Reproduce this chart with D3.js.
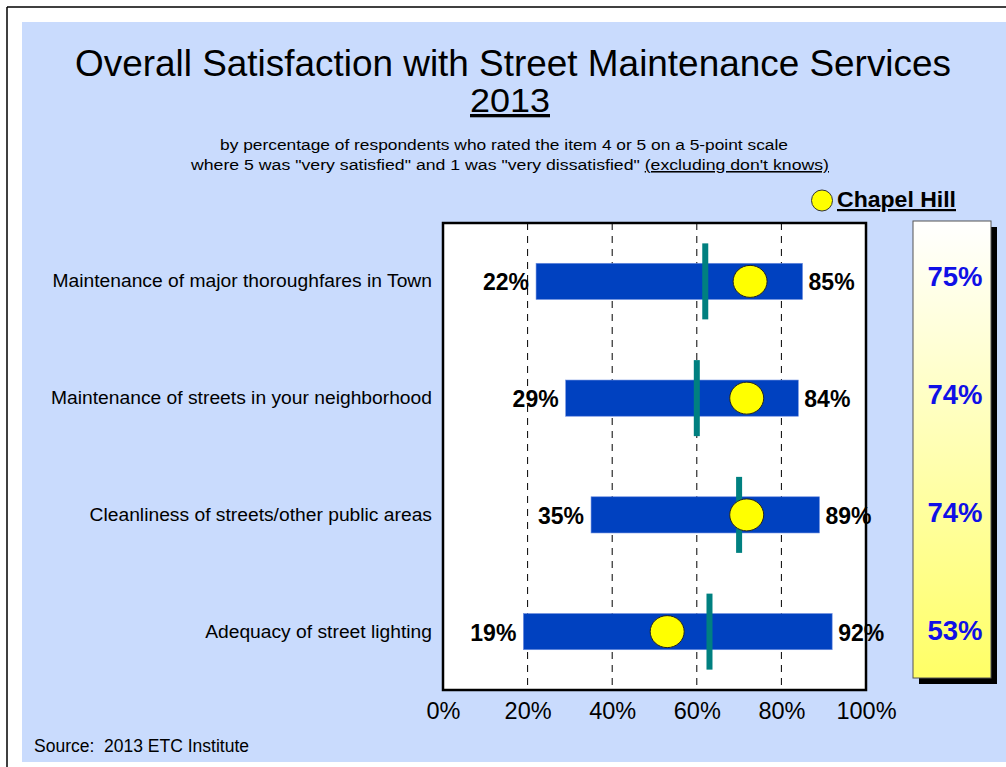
<!DOCTYPE html>
<html>
<head>
<meta charset="utf-8">
<script src="https://cdn.jsdelivr.net/npm/d3@7"></script>
<style>
  body { margin: 0; background: #ffffff; }
  svg text { font-family: "Liberation Sans", Arial, sans-serif; }
</style>
</head>
<body>
<div id="chart"></div>
<script>
var categories = [
  "Maintenance of major thoroughfares in Town",
  "Maintenance of streets in your neighborhood",
  "Cleanliness of streets/other public areas",
  "Adequacy of street lighting"
];
var lowValues = [22, 29, 35, 19];
var highValues = [85, 84, 89, 92];
var averageValues = [62, 60, 70, 63];
var chapelHill = [75, 74, 74, 53];
// where the yellow dots actually sit on the chart
var chapelHillDot = [72.6, 71.8, 71.8, 53];
var xTicks = [0, 20, 40, 60, 80, 100];

var wide = 1006;
var high = 767;

var svg = d3.select("#chart")
  .append("svg")
  .attr("width", wide)
  .attr("height", high);

// frame lines and blue panel
svg.append("rect")
  .attr("x", 22).attr("y", 22)
  .attr("width", wide - 22).attr("height", 740)
  .attr("fill", "#c9dbfd");
svg.append("line")
  .attr("x1", 7).attr("y1", 7).attr("x2", wide).attr("y2", 7)
  .attr("stroke", "#000").attr("stroke-width", 1.5);
svg.append("line")
  .attr("x1", 7).attr("y1", 7).attr("x2", 7).attr("y2", high)
  .attr("stroke", "#000").attr("stroke-width", 1.5);

// titles
svg.append("text")
  .attr("x", 513).attr("y", 76)
  .attr("text-anchor", "middle")
  .attr("font-size", 36)
  .attr("textLength", 876)
  .attr("lengthAdjust", "spacingAndGlyphs")
  .text("Overall Satisfaction with Street Maintenance Services");
svg.append("text")
  .attr("x", 510).attr("y", 112)
  .attr("text-anchor", "middle")
  .attr("font-size", 33)
  .attr("textLength", 80)
  .attr("lengthAdjust", "spacingAndGlyphs")
  .attr("text-decoration", "underline")
  .text("2013");
svg.append("text")
  .attr("x", 504).attr("y", 150)
  .attr("text-anchor", "middle")
  .attr("font-size", 15.5)
  .attr("textLength", 568)
  .attr("lengthAdjust", "spacingAndGlyphs")
  .text("by percentage of respondents who rated the item 4 or 5 on a 5-point scale");
var sub2 = svg.append("text")
  .attr("x", 510).attr("y", 170)
  .attr("text-anchor", "middle")
  .attr("font-size", 15.5)
  .attr("textLength", 638)
  .attr("lengthAdjust", "spacingAndGlyphs");
sub2.append("tspan").text("where 5 was \"very satisfied\" and 1 was \"very dissatisfied\" ");
sub2.append("tspan").attr("text-decoration", "underline").text("(excluding don't knows)");

// legend
svg.append("circle")
  .attr("cx", 822).attr("cy", 200.5).attr("r", 10.5)
  .attr("fill", "#ffff00").attr("stroke", "#333").attr("stroke-width", 1);
svg.append("text")
  .attr("x", 837).attr("y", 207)
  .attr("font-size", 22)
  .attr("font-weight", "bold")
  .attr("textLength", 119)
  .attr("lengthAdjust", "spacingAndGlyphs")
  .attr("text-decoration", "underline")
  .text("Chapel Hill");

// plot area
var plotLeft = 443, plotRight = 866, plotTop = 223, plotBottom = 690;

var xScale = d3.scaleLinear().domain([0, 100]).range([plotLeft, plotRight]);
var yScale = d3.scaleBand()
  .domain(categories)
  .range([plotTop, plotBottom])
  .paddingInner(0.69)
  .paddingOuter(0.345);

svg.append("rect")
  .attr("x", plotLeft).attr("y", plotTop)
  .attr("width", plotRight - plotLeft).attr("height", plotBottom - plotTop)
  .attr("fill", "#ffffff");

svg.selectAll(".grid")
  .data(xTicks.slice(1, -1))
  .enter()
  .append("line")
  .attr("class", "grid")
  .attr("x1", function(d) { return xScale(d); })
  .attr("x2", function(d) { return xScale(d); })
  .attr("y1", plotTop)
  .attr("y2", plotBottom)
  .attr("stroke", "#000")
  .attr("stroke-width", 1)
  .attr("stroke-dasharray", "7,6");

var xAxis = d3.axisBottom(xScale)
  .tickValues(xTicks)
  .tickSize(0)
  .tickPadding(12)
  .tickFormat(function(d) { return d + "%"; });
var xAxisG = svg.append("g")
  .attr("transform", "translate(0," + plotBottom + ")")
  .call(xAxis);
xAxisG.select(".domain").remove();
xAxisG.selectAll("text")
  .attr("font-size", 23.5)
  .attr("font-family", "Liberation Sans, Arial, sans-serif")
  .attr("fill", "#000");

var rows = categories.map(function(c, i) {
  return { name: c, low: lowValues[i], high: highValues[i], avg: averageValues[i], ch: chapelHill[i], dot: chapelHillDot[i] };
});

var bh = yScale.bandwidth();

svg.selectAll(".bar")
  .data(rows)
  .enter()
  .append("rect")
  .attr("class", "bar")
  .attr("x", function(d) { return xScale(d.low); })
  .attr("y", function(d) { return yScale(d.name); })
  .attr("width", function(d) { return xScale(d.high) - xScale(d.low); })
  .attr("height", bh)
  .attr("fill", "#0041c0")
  .attr("stroke", "#6f8fe0")
  .attr("stroke-width", 0.6);

svg.selectAll(".avg")
  .data(rows)
  .enter()
  .append("rect")
  .attr("class", "avg")
  .attr("x", function(d) { return xScale(d.avg) - 3; })
  .attr("y", function(d) { return yScale(d.name) + bh / 2 - 38; })
  .attr("width", 6)
  .attr("height", 76)
  .attr("fill", "#008080");

svg.selectAll(".dot")
  .data(rows)
  .enter()
  .append("ellipse")
  .attr("class", "dot")
  .attr("cx", function(d) { return xScale(d.dot); })
  .attr("cy", function(d) { return yScale(d.name) + bh / 2; })
  .attr("rx", 17)
  .attr("ry", 16)
  .attr("fill", "#ffff00")
  .attr("stroke", "#222")
  .attr("stroke-width", 1);

svg.selectAll(".lowText")
  .data(rows)
  .enter()
  .append("text")
  .attr("x", function(d) { return xScale(d.low) - 7; })
  .attr("y", function(d) { return yScale(d.name) + bh / 2 + 9; })
  .attr("text-anchor", "end")
  .attr("font-size", 23)
  .attr("font-weight", "bold")
  .text(function(d) { return d.low + "%"; });

svg.selectAll(".highText")
  .data(rows)
  .enter()
  .append("text")
  .attr("x", function(d) { return xScale(d.high) + 6; })
  .attr("y", function(d) { return yScale(d.name) + bh / 2 + 9; })
  .attr("font-size", 23)
  .attr("font-weight", "bold")
  .text(function(d) { return d.high + "%"; });

svg.selectAll(".catText")
  .data(rows)
  .enter()
  .append("text")
  .attr("x", 432)
  .attr("y", function(d) { return yScale(d.name) + bh / 2 + 6; })
  .attr("text-anchor", "end")
  .attr("font-size", 17.5)
  .each(function(d) {
    var t = d3.select(this).text(d.name);
    t.attr("textLength", this.getComputedTextLength() * 1.1)
      .attr("lengthAdjust", "spacingAndGlyphs");
  });

svg.append("rect")
  .attr("x", plotLeft).attr("y", plotTop)
  .attr("width", plotRight - plotLeft).attr("height", plotBottom - plotTop)
  .attr("fill", "none")
  .attr("stroke", "#000")
  .attr("stroke-width", 2.5);

// Chapel Hill side panel
var defs = svg.append("defs");
var grad = defs.append("linearGradient")
  .attr("id", "yellowFade")
  .attr("x1", 0).attr("y1", 0).attr("x2", 0).attr("y2", 1);
grad.append("stop").attr("offset", "0%").attr("stop-color", "#ffffff");
grad.append("stop").attr("offset", "100%").attr("stop-color", "#ffff66");

svg.append("rect")
  .attr("x", 919).attr("y", 227)
  .attr("width", 78).attr("height", 457)
  .attr("fill", "#000");
svg.append("rect")
  .attr("x", 913).attr("y", 221)
  .attr("width", 78).attr("height", 457)
  .attr("fill", "url(#yellowFade)")
  .attr("stroke", "#555")
  .attr("stroke-width", 1);

var panelY = d3.scalePoint().domain(categories).range([286, 640]);

svg.selectAll(".chText")
  .data(rows)
  .enter()
  .append("text")
  .attr("x", 955)
  .attr("y", function(d) { return panelY(d.name); })
  .attr("text-anchor", "middle")
  .attr("font-size", 27.5)
  .attr("font-weight", "bold")
  .attr("fill", "#1010e6")
  .text(function(d) { return d.ch + "%"; });

// source
svg.append("text")
  .attr("x", 34).attr("y", 752)
  .attr("font-size", 17.5)
  .attr("font-family", "Liberation Serif, Times New Roman, serif")
  .attr("xml:space", "preserve")
  .text("Source:  2013 ETC Institute");
</script>
</body>
</html>
